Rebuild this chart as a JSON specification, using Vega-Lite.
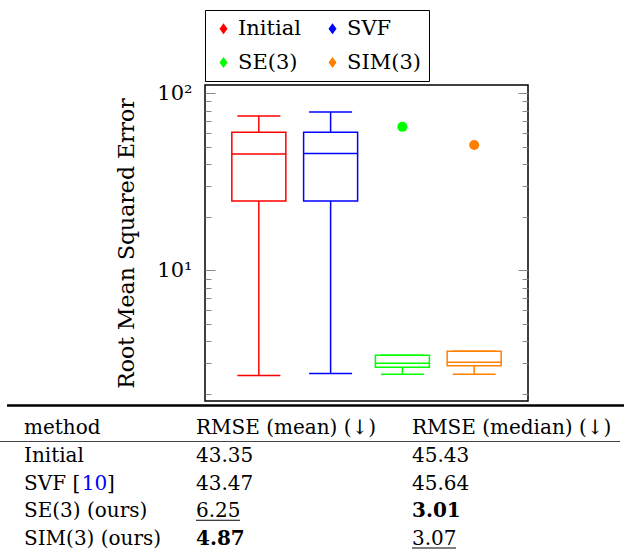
{
  "$schema": "https://vega.github.io/schema/vega-lite/v6.json",
  "width": 323,
  "height": 316,
  "autosize": {"type": "none"},
  "padding": {"left": 205, "top": 85, "right": 96, "bottom": 153},
  "config": {
    "font": "DejaVu Serif",
    "view": {"stroke": "black", "strokeWidth": 1.5},
    "axis": {"grid": false},
    "text": {"font": "DejaVu Serif"},
    "legend": {"labelFont": "DejaVu Serif", "titleFont": "DejaVu Serif"}
  },
  "datasets": {
    "boxes": [
      {"method": "Initial", "lower": 2.55, "q1": 24.7, "median": 45.4, "q3": 60.3, "upper": 74.4},
      {"method": "SVF", "lower": 2.62, "q1": 24.7, "median": 45.8, "q3": 60.3, "upper": 78.4},
      {"method": "SE(3)", "lower": 2.59, "q1": 2.84, "median": 2.99, "q3": 3.32, "upper": 3.32},
      {"method": "SIM(3)", "lower": 2.59, "q1": 2.89, "median": 3.03, "q3": 3.49, "upper": 3.49}
    ],
    "outliers": [
      {"method": "SE(3)", "value": 64.7},
      {"method": "SIM(3)", "value": 51.1}
    ],
    "table": [
      {"row": "header", "col": "method", "text": "method", "rank": 0},
      {"row": "header", "col": "mean", "text": "RMSE (mean) (↓)", "rank": 0},
      {"row": "header", "col": "median", "text": "RMSE (median) (↓)", "rank": 0},
      {"row": "Initial", "col": "method", "text": "Initial", "rank": 0},
      {"row": "Initial", "col": "mean", "text": "43.35", "rank": 0},
      {"row": "Initial", "col": "median", "text": "45.43", "rank": 0},
      {"row": "SVF", "col": "method", "text": "SVF [", "rank": 0},
      {"row": "SVF", "col": "mean", "text": "43.47", "rank": 0},
      {"row": "SVF", "col": "median", "text": "45.64", "rank": 0},
      {"row": "SE(3)", "col": "method", "text": "SE(3) (ours)", "rank": 0},
      {"row": "SE(3)", "col": "mean", "text": "6.25", "rank": 2},
      {"row": "SE(3)", "col": "median", "text": "3.01", "rank": 1},
      {"row": "SIM(3)", "col": "method", "text": "SIM(3) (ours)", "rank": 0},
      {"row": "SIM(3)", "col": "mean", "text": "4.87", "rank": 1},
      {"row": "SIM(3)", "col": "median", "text": "3.07", "rank": 2}
    ],
    "cites": [
      {"row": "SVF", "col": "method", "ref": "10"}
    ]
  },
  "layer": [
    {
      "layer": [
        {
          "data": {"name": "outliers"},
          "mark": {"type": "point", "shape": "circle", "filled": true, "size": 100, "opacity": 1, "strokeWidth": 0},
          "encoding": {
            "x": {"field": "method", "type": "nominal", "sort": null, "scale": {"domain": ["Initial", "SVF", "SE(3)", "SIM(3)"], "paddingInner": 0, "paddingOuter": 0.25}, "axis": null},
            "y": {"field": "value", "type": "quantitative", "scale": {"type": "log", "domain": [1.83, 111.5], "nice": false}, "axis": null},
            "color": {
              "field": "method", "type": "nominal",
              "scale": {"domain": ["Initial", "SVF", "SE(3)", "SIM(3)"], "range": ["#ff0000", "#0000ff", "#00ff00", "#ff8000"]},
              "legend": {
                "orient": "none", "legendX": 0, "legendY": -75,
                "direction": "horizontal", "columns": 2, "title": null,
                "symbolType": "M0,-1L0.73,0L0,1L-0.73,0Z", "symbolSize": 121,
                "symbolStrokeWidth": 0, "symbolOpacity": 1,
                "labelFont": "DejaVu Serif", "labelFontSize": 21, "labelColor": "black",
                "labelBaseline": "middle", "labelLimit": 300,
                "padding": 8, "rowPadding": 12, "columnPadding": 21, "labelOffset": 4,
                "strokeColor": "black", "fillColor": "white"
              }
            }
          }
        },
        {
          "data": {"name": "boxes"},
          "mark": {"type": "rule", "strokeWidth": 1.5},
          "encoding": {
            "x": {"field": "method", "type": "nominal", "sort": null, "axis": null},
            "y": {
              "field": "lower", "type": "quantitative",
              "axis": {
                "orient": "left", "title": "Root Mean Squared Error",
                "values": [2, 3, 4, 5, 6, 7, 8, 9, 10, 20, 30, 40, 50, 60, 70, 80, 90, 100],
                "labelExpr": "datum.value == 10 ? '10¹' : (datum.value == 100 ? '10²' : '')",
                "tickSize": {"condition": {"test": "datum.value == 10 || datum.value == 100", "value": -10}, "value": -6},
                "tickColor": "#888888", "tickWidth": 1, "domain": false, "grid": false,
                "labelFont": "DejaVu Serif", "labelFontSize": 21, "labelColor": "black",
                "labelPadding": 23, "labelOverlap": false, "labelFlush": false,
                "titleFont": "DejaVu Serif", "titleFontSize": 22, "titleFontWeight": "normal",
                "titleColor": "black", "titlePadding": 18
              }
            },
            "y2": {"field": "q1"},
            "color": {"field": "method", "type": "nominal"}
          }
        },
        {
          "data": {"name": "boxes"},
          "mark": {"type": "rule", "strokeWidth": 1.5},
          "encoding": {
            "x": {"field": "method", "type": "nominal", "sort": null, "axis": null},
            "y": {
              "field": "q3", "type": "quantitative",
              "axis": {
                "orient": "right", "title": null, "labels": false,
                "values": [2, 3, 4, 5, 6, 7, 8, 9, 10, 20, 30, 40, 50, 60, 70, 80, 90, 100],
                "tickSize": {"condition": {"test": "datum.value == 10 || datum.value == 100", "value": -10}, "value": -6},
                "tickColor": "#888888", "tickWidth": 1, "domain": false, "grid": false
              }
            },
            "y2": {"field": "upper"},
            "color": {"field": "method", "type": "nominal"}
          }
        },
        {
          "data": {"name": "boxes"},
          "mark": {"type": "bar", "filled": false, "width": 54, "strokeWidth": 1.5},
          "encoding": {
            "x": {"field": "method", "type": "nominal", "sort": null, "axis": null},
            "y": {"field": "q1", "type": "quantitative", "axis": null},
            "y2": {"field": "q3"},
            "color": {"field": "method", "type": "nominal"}
          }
        },
        {
          "data": {"name": "boxes"},
          "mark": {"type": "tick", "orient": "horizontal", "size": 54, "thickness": 1.5, "opacity": 1},
          "encoding": {
            "x": {"field": "method", "type": "nominal", "sort": null, "axis": null},
            "y": {"field": "median", "type": "quantitative", "axis": null},
            "color": {"field": "method", "type": "nominal"}
          }
        },
        {
          "data": {"name": "boxes"},
          "mark": {"type": "tick", "orient": "horizontal", "size": 43, "thickness": 1.5, "opacity": 1},
          "encoding": {
            "x": {"field": "method", "type": "nominal", "sort": null, "axis": null},
            "y": {"field": "lower", "type": "quantitative", "axis": null},
            "color": {"field": "method", "type": "nominal"}
          }
        },
        {
          "data": {"name": "boxes"},
          "mark": {"type": "tick", "orient": "horizontal", "size": 43, "thickness": 1.5, "opacity": 1},
          "encoding": {
            "x": {"field": "method", "type": "nominal", "sort": null, "axis": null},
            "y": {"field": "upper", "type": "quantitative", "axis": null},
            "color": {"field": "method", "type": "nominal"}
          }
        }
      ],
      "resolve": {"axis": {"y": "independent"}}
    },
    {
      "data": {"name": "table"},
      "layer": [
        {
          "transform": [{"filter": "datum.col != 'mean' && datum.rank != 1"}],
          "mark": {"type": "text", "font": "DejaVu Serif", "align": "left", "baseline": "alphabetic", "fontSize": 20, "color": "black"},
          "encoding": {
            "x": {"field": "col", "type": "ordinal", "scale": {"type": "point", "domain": ["method", "mean", "median"], "range": [-181, 207], "padding": 0}, "axis": null},
            "y": {"field": "row", "type": "ordinal", "scale": {"type": "point", "domain": ["header", "Initial", "SVF", "SE(3)", "SIM(3)"], "range": [349, 460], "padding": 0}, "axis": null},
            "text": {"field": "text"}
          }
        },
        {
          "transform": [{"filter": "datum.col == 'mean' && datum.rank != 1"}],
          "mark": {"type": "text", "font": "DejaVu Serif", "align": "left", "baseline": "alphabetic", "fontSize": 20, "color": "black", "dx": -22},
          "encoding": {
            "x": {"field": "col", "type": "ordinal", "axis": null},
            "y": {"field": "row", "type": "ordinal", "axis": null},
            "text": {"field": "text"}
          }
        },
        {
          "transform": [{"filter": "datum.col != 'mean' && datum.rank == 1"}],
          "mark": {"type": "text", "font": "DejaVu Serif", "align": "left", "baseline": "alphabetic", "fontSize": 20, "fontWeight": "bold", "color": "black"},
          "encoding": {
            "x": {"field": "col", "type": "ordinal", "axis": null},
            "y": {"field": "row", "type": "ordinal", "axis": null},
            "text": {"field": "text"}
          }
        },
        {
          "transform": [{"filter": "datum.col == 'mean' && datum.rank == 1"}],
          "mark": {"type": "text", "font": "DejaVu Serif", "align": "left", "baseline": "alphabetic", "fontSize": 20, "fontWeight": "bold", "color": "black", "dx": -22},
          "encoding": {
            "x": {"field": "col", "type": "ordinal", "axis": null},
            "y": {"field": "row", "type": "ordinal", "axis": null},
            "text": {"field": "text"}
          }
        },
        {
          "transform": [{"filter": "datum.col == 'mean' && datum.rank == 2"}],
          "mark": {"type": "rule", "color": "black", "strokeWidth": 1, "xOffset": -22, "x2Offset": 22, "yOffset": 3},
          "encoding": {
            "x": {"field": "col", "type": "ordinal", "axis": null},
            "x2": {"field": "col"},
            "y": {"field": "row", "type": "ordinal", "axis": null}
          }
        },
        {
          "transform": [{"filter": "datum.col == 'median' && datum.rank == 2"}],
          "mark": {"type": "rule", "color": "black", "strokeWidth": 1, "xOffset": 0, "x2Offset": 44, "yOffset": 3},
          "encoding": {
            "x": {"field": "col", "type": "ordinal", "axis": null},
            "x2": {"field": "col"},
            "y": {"field": "row", "type": "ordinal", "axis": null}
          }
        },
        {
          "data": {"name": "cites"},
          "mark": {"type": "text", "font": "DejaVu Serif", "align": "left", "baseline": "alphabetic", "fontSize": 20, "color": "#0000ff", "dx": 57.7},
          "encoding": {
            "x": {"field": "col", "type": "ordinal", "axis": null},
            "y": {"field": "row", "type": "ordinal", "axis": null},
            "text": {"field": "ref"}
          }
        },
        {
          "data": {"name": "cites"},
          "mark": {"type": "text", "font": "DejaVu Serif", "align": "left", "baseline": "alphabetic", "fontSize": 20, "color": "black", "dx": 83.1, "text": "]"},
          "encoding": {
            "x": {"field": "col", "type": "ordinal", "axis": null},
            "y": {"field": "row", "type": "ordinal", "axis": null}
          }
        },
        {
          "transform": [{"filter": "datum.row == 'header' && datum.col == 'method'"}],
          "mark": {"type": "rule", "color": "black", "strokeWidth": 2.5, "yOffset": -28.5, "xOffset": -17, "x2Offset": 212},
          "encoding": {
            "x": {"datum": "method", "type": "ordinal", "axis": null},
            "x2": {"datum": "median"},
            "y": {"field": "row", "type": "ordinal", "axis": null}
          }
        },
        {
          "transform": [{"filter": "datum.row == 'header' && datum.col == 'method'"}],
          "mark": {"type": "rule", "color": "#444444", "strokeWidth": 1.2, "yOffset": 7.5, "xOffset": -24, "x2Offset": 208},
          "encoding": {
            "x": {"datum": "method", "type": "ordinal", "axis": null},
            "x2": {"datum": "median"},
            "y": {"field": "row", "type": "ordinal", "axis": null}
          }
        }
      ]
    }
  ],
  "resolve": {"scale": {"x": "independent", "y": "independent", "color": "independent"}}
}
